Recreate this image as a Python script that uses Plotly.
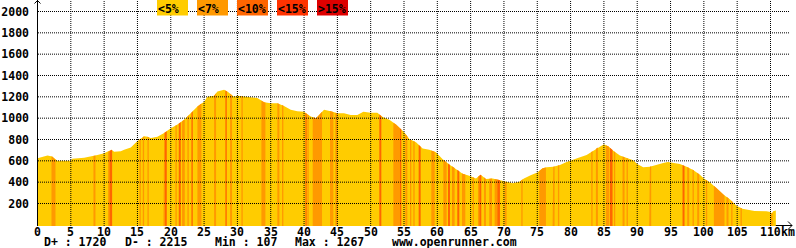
import numpy as np
import plotly.graph_objects as go

# ---------------- data ----------------
KM = [0, 0.5, 1.5, 2.2, 2.7, 3.0, 5.0, 5.2, 7, 8, 9, 10, 10.8, 11.1, 11.5, 12.5, 13, 14, 15, 16,
      16.5, 17, 18, 19, 20, 21, 22, 23, 24, 25, 25.5, 26.5, 27, 28, 28.5, 29, 29.5, 30, 31, 32,
      33, 34, 35, 36, 37, 38, 39, 40, 41, 41.8, 42.5, 43, 44, 45, 46, 47, 48, 48.9, 50, 51,
      51.8, 52.8, 53.8, 55, 55.8, 56.8, 57.8, 58.8, 59.8, 60.8, 61.8, 62.8, 63.8, 64.8, 65.8,
      66.5, 67.3, 68.3, 69.3, 70.3, 71.3, 72.3, 73, 74, 75, 75.8, 76.4, 77.4, 78.4, 79.4, 80,
      81.2, 82.4, 83.4, 84.2, 85, 85.7, 86.4, 87.4, 88.4, 89.4, 90, 90.9, 91.9, 92.9, 93.9,
      94.6, 95.4, 96.4, 97.4, 98.4, 99.4, 100, 100.9, 101.9, 102.9, 103.9, 104.9, 105.8,
      106.9, 107.6, 109.4, 110, 110.2, 110.4, 110.8]
ELEV = [625, 635, 650, 640, 610, 600, 600, 620, 630, 640, 655, 670, 690, 705, 685, 690, 705, 725, 785, 830,
        825, 815, 825, 860, 905, 940, 985, 1045, 1110, 1155, 1200, 1210, 1250, 1267, 1250, 1225, 1200, 1210, 1205, 1200,
        1190, 1150, 1140, 1140, 1115, 1080, 1065, 1060, 1015, 1000, 1045, 1080, 1065, 1045, 1045, 1030, 1030, 1060, 1050, 1050,
        1010, 985, 940, 870, 805, 775, 715, 705, 680, 615, 565, 525, 480, 460, 435,
        470, 430, 435, 420, 400, 390, 405, 435, 465, 490, 530, 540, 545, 560, 590, 605,
        630, 655, 695, 730, 755, 735, 695, 650, 625, 605, 570, 540, 545, 565, 580,
        590, 580, 570, 545, 515, 470, 435, 400, 345, 285, 240, 180, 150,
        142, 130, 128, 120, 107, 128, 135]

# slope-class strips (class index: 0 <5%, 1 <7%, 2 <10%, 3 <15%, 4 >15%)
STRIP_START = [2.1, 8.4, 10.6, 10.8, 15.3, 15.8, 16.5, 18.9, 19.1, 20.7, 21.2, 21.7, 22.5, 23.1, 24.0,
               26.5, 28.2, 28.9, 30.6, 33.6, 36.0, 36.7, 40.2, 40.5, 41.3, 43.9, 44.7, 51.3, 53.4, 54.4,
               55.2, 55.9, 56.4, 57.2, 59.1, 60.9, 61.6, 62.2, 63.0, 63.7, 65.3, 66.1, 66.3, 67.0, 67.8,
               68.6, 69.0, 70.1, 72.6, 75.3, 77.3, 78.1, 83.1, 83.8, 85.3, 85.9, 86.5, 87.8, 88.4, 91.8,
               96.8, 97.5, 98.3, 99.0, 100.3, 101.5, 103.4, 104.1, 105.5, 110.1]
STRIP_END = [2.7, 8.7, 10.8, 11.2, 15.5, 16.0, 16.7, 19.1, 19.4, 20.9, 21.5, 22.1, 22.7, 23.3, 24.6,
             26.8, 28.4, 29.2, 30.8, 34.2, 36.3, 36.9, 40.4, 40.7, 42.7, 44.4, 45.0, 51.6, 54.4, 54.6,
             55.5, 56.1, 56.6, 57.5, 59.6, 61.4, 61.9, 62.6, 63.3, 64.2, 65.5, 66.3, 66.6, 67.3, 68.2,
             69.0, 69.4, 70.4, 72.8, 76.3, 77.6, 78.3, 83.3, 84.1, 85.8, 86.3, 86.7, 88.1, 88.6, 92.1,
             97.1, 97.8, 98.5, 99.3, 100.5, 103.1, 103.7, 104.3, 105.7, 110.3]
STRIP_CLASS = [1, 1, 1, 2, 1, 1, 1, 1, 2, 1, 2, 1, 1, 2, 1,
               1, 2, 1, 1, 1, 1, 1, 2, 1, 1, 1, 1, 2, 1, 2,
               1, 1, 1, 2, 1, 1, 2, 1, 2, 1, 1, 1, 2, 1, 1,
               1, 2, 1, 1, 1, 1, 1, 1, 1, 1, 2, 1, 1, 1, 1,
               2, 1, 1, 1, 1, 1, 1, 1, 1, 1]

CLASS_LABELS = ['<5%', '<7%', '<10%', '<15%', '>15%']
CLASS_COLORS = ['#FFCC00', '#FF9900', '#FF6600', '#FF3300', '#DD0000']

X_TICKS = list(range(0, 111, 5))
Y_TICKS = list(range(200, 2001, 200))
STATS_LABELS = ['D+ : 1720', 'D- : 2215', 'Min : 107', 'Max : 1267']
SITE_LABEL = 'www.openrunner.com'

# ---------------- geometry ----------------
W, H = 796, 248
ML, MR, MT, MB = 37, 0, 0, 22
PW, PH = W - ML - MR, H - MT - MB
PX_PER_KM = 733.0 / 110.0
PX_PER_M = 192.0 / 1800.0
X0 = -0.5 / PX_PER_KM
X1 = X0 + PW / PX_PER_KM
Y1 = 2000 + 11.5 / PX_PER_M
Y0 = Y1 - PH / PX_PER_M


def ppx(px):  # pixel -> paper x
    return (px - ML) / PW


def ppy(py):  # pixel -> paper y
    return (MT + PH - py) / PH


FONT = dict(family='DejaVu Sans Mono', size=11.5, color='black', weight='bold')

fig = go.Figure()

# baseline + yellow profile
fig.add_trace(go.Scatter(x=[KM[0], KM[-1]], y=[Y0, Y0], mode='lines',
                         line=dict(width=0), hoverinfo='skip', showlegend=False))
fig.add_trace(go.Scatter(x=KM, y=ELEV, mode='lines', fill='tonexty',
                         fillcolor=CLASS_COLORS[0], line=dict(width=0, color=CLASS_COLORS[0]),
                         showlegend=False))

# slope strips
km_arr = np.array(KM, dtype=float)
el_arr = np.array(ELEV, dtype=float)
for c in range(1, len(CLASS_COLORS)):
    xs, ys = [], []
    for s, e, k in zip(STRIP_START, STRIP_END, STRIP_CLASS):
        if k != c:
            continue
        inner = [v for v in KM if s < v < e]
        px_ = [s] + inner + [e]
        py_ = list(np.interp(px_, km_arr, el_arr))
        xs += [s] + px_ + [e, None]
        ys += [Y0] + py_ + [Y0, None]
    if xs:
        fig.add_trace(go.Scatter(x=xs, y=ys, mode='lines', fill='toself',
                                 fillcolor=CLASS_COLORS[c], line=dict(width=0),
                                 hoverinfo='skip', showlegend=False))

shapes = []
DOT = '1px,1px'
# grid (dotted, drawn above fill)
for xv in X_TICKS[1:]:
    shapes.append(dict(type='line', xref='x', yref='paper', x0=xv, x1=xv, y0=0, y1=1,
                       line=dict(color='black', width=1, dash=DOT), layer='above'))
for yv in Y_TICKS:
    shapes.append(dict(type='line', xref='paper', yref='y', x0=ppx(38), x1=ppx(789), y0=yv, y1=yv,
                       line=dict(color='black', width=1, dash=DOT), layer='above'))
# axes
shapes.append(dict(type='line', xref='paper', yref='paper', x0=ppx(37.5), x1=ppx(37.5),
                   y0=ppy(0), y1=ppy(226), line=dict(color='black', width=1), layer='above'))
shapes.append(dict(type='path', xref='paper', yref='paper',
                   path=f'M{ppx(34.5)},{ppy(3.5)} L{ppx(37.5)},{ppy(0.5)} L{ppx(40.5)},{ppy(3.5)}',
                   line=dict(color='black', width=1), layer='above'))
shapes.append(dict(type='line', xref='paper', yref='paper', x0=ppx(37), x1=ppx(792),
                   y0=ppy(225.5), y1=ppy(225.5), line=dict(color='black', width=1), layer='below'))
shapes.append(dict(type='path', xref='paper', yref='paper',
                   path=f'M{ppx(788)},{ppy(221.5)} L{ppx(792)},{ppy(225.5)} L{ppx(788)},{ppy(229.5)}',
                   line=dict(color='black', width=1), layer='above'))

annotations = []
# x tick labels
for xv in X_TICKS:
    annotations.append(dict(text=str(xv), xref='x', yref='paper', x=xv, y=ppy(231.5),
                            xanchor='center', yanchor='middle', showarrow=False, font=FONT,
                            borderpad=0))
# legend boxes
for i, (lab, col) in enumerate(zip(CLASS_LABELS, CLASS_COLORS)):
    bx = 157 + 40 * i
    shapes.append(dict(type='rect', xref='paper', yref='paper', x0=ppx(bx), x1=ppx(bx + 31),
                       y0=ppy(15.5), y1=ppy(0), fillcolor=col, line=dict(width=0), layer='above'))
    annotations.append(dict(text=lab, xref='paper', yref='paper', x=ppx(bx), y=ppy(8.5),
                            xanchor='left', yanchor='middle', showarrow=False, font=FONT,
                            borderpad=0))

# stats line
for lab, px in zip(STATS_LABELS + [SITE_LABEL], [43, 124, 214, 294, 391]):
    annotations.append(dict(text=lab, xref='paper', yref='paper', x=ppx(px), y=ppy(241.5),
                            xanchor='left', yanchor='middle', showarrow=False, font=FONT,
                            borderpad=0))
# units
annotations.append(dict(text='km', xref='paper', yref='paper', x=ppx(796), y=ppy(231.5),
                        xanchor='right', yanchor='middle', showarrow=False, font=FONT, borderpad=0))
annotations.append(dict(text='m', xref='paper', yref='paper', x=ppx(30), y=ppy(3),
                        xanchor='center', yanchor='bottom', showarrow=False, font=FONT, borderpad=0))

fig.update_layout(
    width=W, height=H, margin=dict(l=ML, r=MR, t=MT, b=MB, pad=0),
    paper_bgcolor='white', plot_bgcolor='white', showlegend=False,
    shapes=shapes, annotations=annotations,
    xaxis=dict(range=[X0, X1], showticklabels=False,
               showgrid=False, zeroline=False, showline=False, ticks='', fixedrange=True),
    yaxis=dict(range=[Y0, Y1], tickvals=Y_TICKS, ticktext=[str(v) for v in Y_TICKS],
               showgrid=False, zeroline=False, showline=False, ticks='',
               tickfont=FONT, ticklabelstandoff=7, fixedrange=True),
)

fig.write_html('out.html')
